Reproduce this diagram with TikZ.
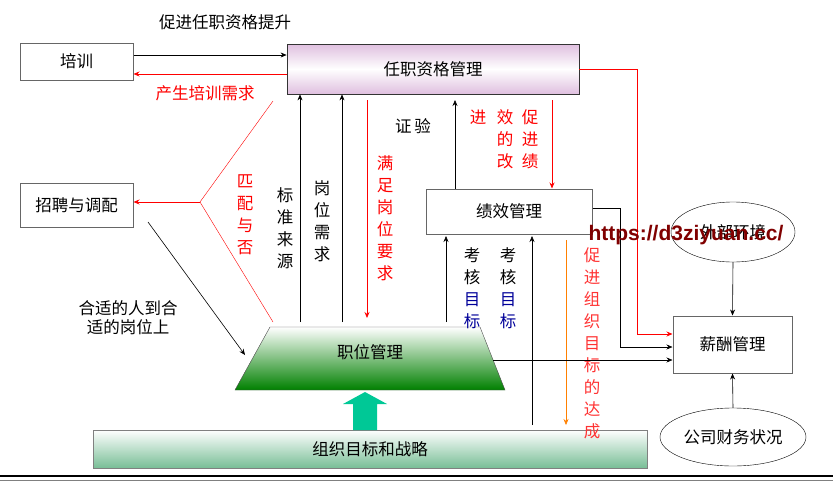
\documentclass[tikz,border=0pt]{standalone}
\usepackage{fontspec}
\newfontfamily\cjk{Noto Sans CJK SC}
\newfontfamily\wmf{Liberation Sans}
\usetikzlibrary{arrows.meta,shapes.geometric}
\definecolor{tealg}{RGB}{0,200,150}
\definecolor{bgreen}{RGB}{120,190,150}
\begin{document}
\begin{tikzpicture}[x=1pt,y=-1pt,font=\cjk\fontsize{16.5}{19}\selectfont,
 box/.style={draw=gray!80!black,line width=1pt,inner sep=0pt},
 ar/.style={-{Stealth[length=6pt,width=5pt]},line width=0.6pt},
 rar/.style={-{Stealth[length=6pt,width=5pt]},line width=0.8pt,draw=red,color=red},
 vt/.style={align=center,inner sep=0pt,font=\cjk\fontsize{16.5}{22}\selectfont},
 wm/.style={font=\wmf\bfseries\fontsize{21}{21}\selectfont,text=red!50!black}]
\useasboundingbox (0,0) rectangle (833,485);
\node[box,minimum width=113pt,minimum height=37pt] (px) at (76.5,61.5) {培训};
\node[box,minimum width=113pt,minimum height=44pt] (zp) at (76.5,205) {招聘与调配};
\node[draw=black!80,line width=0.8pt,minimum width=292pt,minimum height=50pt,inner sep=0pt,
  top color=violet!25,bottom color=violet!25,middle color=white] (rz) at (433,69) {任职资格管理};
\node[box,minimum width=166pt,minimum height=45pt] (jx) at (509,211.5) {绩效管理};
\node[box,minimum width=119pt,minimum height=57pt] (xc) at (732.5,344.5) {薪酬管理};
\node[draw,ellipse,minimum width=124pt,minimum height=60pt,inner sep=0pt] (wb) at (733,232) {外部环境};
\node[draw,ellipse,minimum width=146pt,minimum height=58pt,inner sep=0pt] (gs) at (733,437) {公司财务状况};
\node[draw=gray,line width=1pt,minimum width=554pt,minimum height=38pt,inner sep=0pt,
  top color=white,bottom color=bgreen] (zz) at (370,449) {组织目标和战略};
% trapezoid
\shade[top color=white,bottom color=green!50!black,draw=black!70] (270,327) -- (480,327) -- (505,390) -- (235,390) -- cycle;
\node (zw) at (370,352) {职位管理};
\coordinate (tl) at (245,355);
% big arrow
\fill[tealg] (353,430) -- (353,404) -- (343,404) -- (365,392) -- (387,404) -- (377,404) -- (377,430) -- cycle;
% top connectors
\draw[ar] (px.east |- 0,55) -- (rz.west |- 0,55);
\node at (225,22) {促进任职资格提升};
\draw[rar] (rz.west |- 0,74) -- (px.east |- 0,74);
\node[text=red] at (205,93) {产生培训需求};
\coordinate (br) at (200,202);
\draw[red] (273,101) -- (br) -- (273,322);
\draw[rar] (br) -- (zp.east |- br);
\draw[ar] (148,222) -- (tl);
\node[align=center,inner sep=0pt] at (128,318) {合适的人到合\\适的岗位上};
\node[vt,text=red] at (245,215) {匹\\配\\与\\否};
\node[vt] at (285,228) {标\\准\\来\\源};
\node[vt] at (322,221) {岗\\位\\需\\求};
\node[vt,text=red] at (385,218) {满\\足\\岗\\位\\要\\求};
\draw[ar] (300,322) -- (rz.south -| 300,0);
\draw[ar] (342,322) -- (rz.south -| 342,0);
\draw[rar] (367,100) -- (367,318);
\node at (413,126) {证\,验};
\draw[ar] (jx.north -| 455,0) -- (455,100);
\draw[rar] (552,100) -- (jx.north -| 552,0);
\node[text=red] at (478,117) {进};
\node[vt,text=red] at (505,139) {效\\的\\改};
\node[vt,text=red] at (530,139) {促\\进\\绩};
\draw[ar] (446,322) -- (446,236);
\draw[ar] (532,425) -- (532,236);
\node[vt] at (472,288) {考\\核\\\textcolor{blue!60!black}{目}\\\textcolor{blue!60!black}{标}};
\node[vt] at (508,288) {考\\核\\\textcolor{blue!60!black}{目}\\\textcolor{blue!60!black}{标}};
\draw[ar,draw=orange] (566,240) -- (566,425);
\node[vt,text=red!80] at (592,343) {促\\进\\组\\织\\目\\标\\的\\达\\成};
% right connectors
\draw[rar] (rz.east) -- (637,69) -- (637,334) -- (xc.west |- 0,334);
\draw[ar] (jx.east |- 0,208) -- (620,208) -- (620,347) -- (xc.west |- 0,347);
\draw[ar] (493,360) -- (xc.west |- 0,360);
\draw[ar] (wb.south) -- (xc.north);
\draw[ar] (gs.north) -- (xc.south);
% bottom line
\draw[line width=2.5pt] (0,476) -- (833,476);
\draw[line width=0.5pt,gray] (0,480) -- (833,480);
\node[wm] at (686,235) {https://d3ziyuan.cc/};
\end{tikzpicture}
\end{document}
